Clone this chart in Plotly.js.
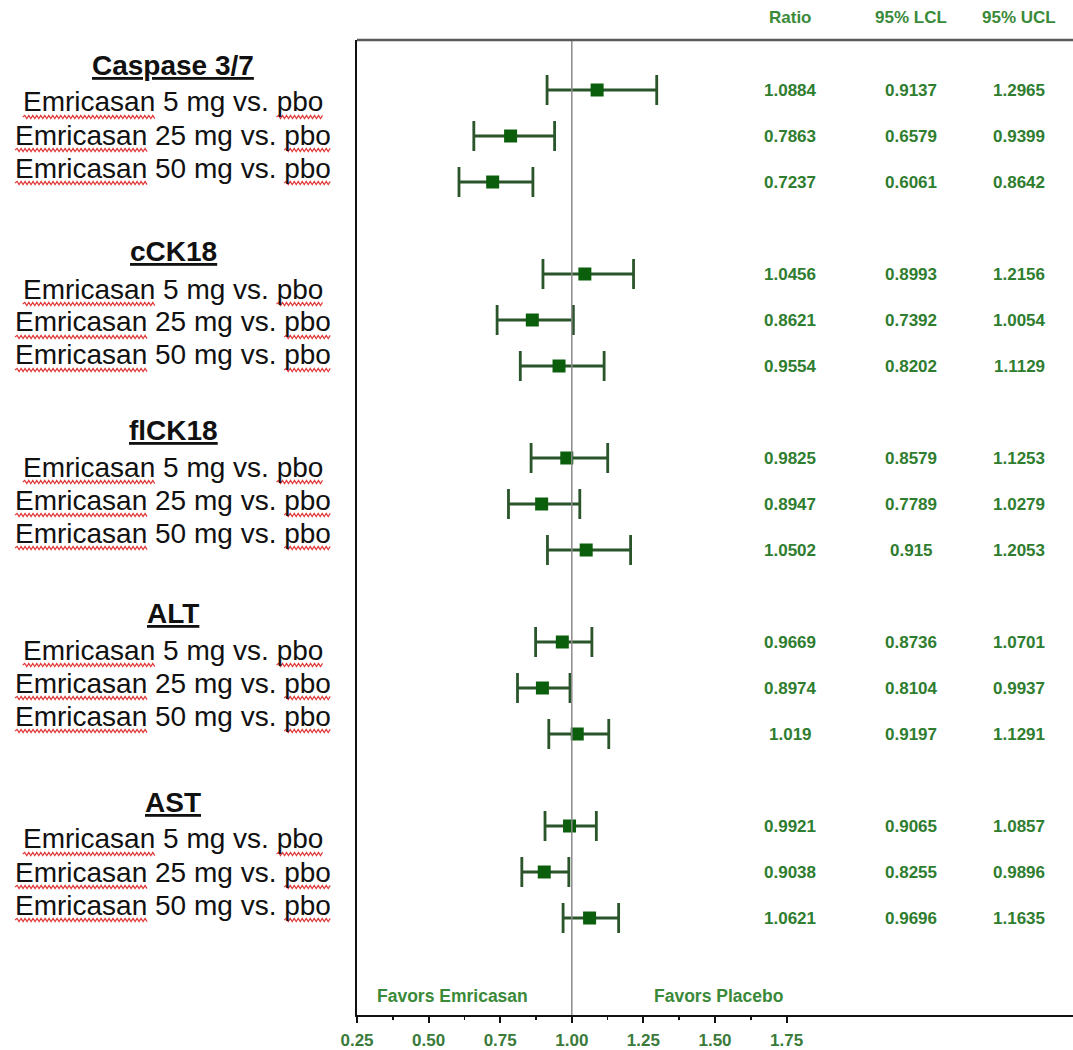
<!DOCTYPE html>
<html>
<head>
<meta charset="utf-8">
<script src="https://cdn.plot.ly/plotly-3.0.1.min.js"></script>
<style>html,body{margin:0;padding:0;background:#fff;}#chart{width:1073px;height:1050px;}</style>
</head>
<body>
<div id="chart"></div>
<script>
// ---- data ----
const groups = ['Caspase 3/7', 'cCK18', 'flCK18', 'ALT', 'AST'];
const comparisons = ['Emricasan 5 mg vs. pbo', 'Emricasan 25 mg vs. pbo', 'Emricasan 50 mg vs. pbo'];
const ratio = [1.0884, 0.7863, 0.7237, 1.0456, 0.8621, 0.9554, 0.9825, 0.8947, 1.0502, 0.9669, 0.8974, 1.019, 0.9921, 0.9038, 1.0621];
const lcl   = [0.9137, 0.6579, 0.6061, 0.8993, 0.7392, 0.8202, 0.8579, 0.7789, 0.915, 0.8736, 0.8104, 0.9197, 0.9065, 0.8255, 0.9696];
const ucl   = [1.2965, 0.9399, 0.8642, 1.2156, 1.0054, 1.1129, 1.1253, 1.0279, 1.2053, 1.0701, 0.9937, 1.1291, 1.0857, 0.9896, 1.1635];
const tableHeaders = ['Ratio', '95% LCL', '95% UCL'];
const tickVals = [0.25, 0.5, 0.75, 1.0, 1.25, 1.5, 1.75];
const tickText = ['0.25', '0.50', '0.75', '1.00', '1.25', '1.50', '1.75'];
const minorVals = [0.375, 0.625, 0.875, 1.125, 1.375, 1.625];
const favorLabels = ['Favors Emricasan', 'Favors Placebo'];

// ---- layout geometry (pixels) ----
const W = 1073, H = 1050;
const M = {l: 357, r: 0, t: 40, b: 35};
const PW = W - M.l - M.r, PH = H - M.t - M.b;
const px = p => (p - M.l) / PW;
const py = p => (H - M.b - p) / PH;
const FONT = 'Liberation Sans, Arial, sans-serif';
const GREEN_TXT = '#2f7d2f';

const rowY = [];
groups.forEach((g, gi) => comparisons.forEach((c, ci) => { rowY.push(gi * 4 + ci); }));

const trace = {
  type: 'scatter', mode: 'markers',
  x: ratio, y: rowY,
  marker: {symbol: 'square', size: 13, color: '#0b5e0b'},
  error_x: {
    type: 'data', symmetric: false,
    array: ucl.map((u, i) => u - ratio[i]),
    arrayminus: lcl.map((l, i) => ratio[i] - l),
    color: '#2a552a', thickness: 2.8, width: 15
  },
  hoverinfo: 'skip', showlegend: false, cliponaxis: false
};

const annotations = [];
const shapes = [];

// table columns
const colPx = [790, 911, 1019];
tableHeaders.forEach((h, k) => annotations.push({
  xref: 'paper', yref: 'paper', x: px(colPx[k]), y: py(18), xanchor: 'center', yanchor: 'middle',
  text: '<b>' + h + '</b>', showarrow: false, font: {family: FONT, size: 17, color: '#3a8a3a'}
}));
const cols = [ratio, lcl, ucl];
cols.forEach((arr, k) => arr.forEach((v, i) => annotations.push({
  xref: 'paper', yref: 'y', x: px(colPx[k]), y: rowY[i], xanchor: 'center', yanchor: 'middle',
  text: '<b>' + String(v) + '</b>', showarrow: false, font: {family: FONT, size: 17, color: GREEN_TXT}
})));

// favors labels
const favPx = [375, 652];
favorLabels.forEach((t, k) => annotations.push({
  xref: 'paper', yref: 'paper', x: px(favPx[k]), y: py(996), xanchor: 'left', yanchor: 'middle',
  text: '<b>' + t + '</b>', showarrow: false, font: {family: FONT, size: 17.5, color: '#3a8a3a'}
}));

// left labels
const headPx = [65, 252, 430, 613, 802];
const lineOff = [37, 70, 103];
const LFS = 28, LCX = 173;
const emrW = 4.723 * LFS, pboW = 1.668 * LFS;
function wave(x0, x1, y) {
  let d = 'M' + px(x0) + ',' + py(y);
  let up = true;
  for (let x = x0 + 2; x <= x1; x += 2) {
    d += ' L' + px(x) + ',' + py(y + (up ? -1.6 : 1.6));
    up = !up;
  }
  return {type: 'path', xref: 'paper', yref: 'paper', path: d, line: {color: '#e03a3a', width: 1.2}, layer: 'above'};
}
groups.forEach((g, gi) => {
  annotations.push({
    xref: 'paper', yref: 'paper', x: px(LCX), y: py(headPx[gi]), xanchor: 'center', yanchor: 'middle',
    text: '<b><u>' + g + '</u></b>', showarrow: false, font: {family: FONT, size: LFS, color: '#111'}
  });
  comparisons.forEach((c, ci) => {
    const yc = headPx[gi] + lineOff[ci];
    annotations.push({
      xref: 'paper', yref: 'paper', x: px(LCX), y: py(yc), xanchor: 'center', yanchor: 'middle',
      text: c, showarrow: false, font: {family: FONT, size: LFS, color: '#111'}
    });
    const wEm = ci === 0 ? 10.73 : 11.28;
    const x0 = LCX - wEm * LFS / 2, x1 = LCX + wEm * LFS / 2;
    shapes.push(wave(x0, x0 + emrW, yc + 15));
    shapes.push(wave(x1 - pboW, x1, yc + 15));
  });
});

// reference line at 1 and top border
shapes.push({type: 'line', xref: 'x', yref: 'paper', x0: 1, x1: 1, y0: 0, y1: 1, line: {color: '#8a8a8a', width: 1.5}});
shapes.push({type: 'line', xref: 'paper', yref: 'paper', x0: 0, x1: 1, y0: 1, y1: 1, line: {color: '#5a5a5a', width: 2.5}});

const layout = {
  width: W, height: H, margin: M,
  paper_bgcolor: '#fff', plot_bgcolor: '#fff',
  font: {family: FONT},
  xaxis: {
    range: [0.25, 0.25 + PW / 286.4], showgrid: false, zeroline: false,
    showline: true, linecolor: '#111', linewidth: 2,
    tickmode: 'array', tickvals: tickVals, ticktext: tickText,
    ticks: 'outside', ticklen: 6, tickwidth: 2, tickcolor: '#111',
    ticklabelstandoff: 3,
    tickfont: {family: FONT, size: 17, color: '#3a7a3a', weight: 'bold'},
    minor: {tickmode: 'array', tickvals: minorVals, ticks: 'outside', ticklen: 3, tickwidth: 1.5, tickcolor: '#111'},
    fixedrange: true
  },
  yaxis: {
    range: [(H - M.b - 90) / 46, (M.t - 90) / 46], showgrid: false, zeroline: false,
    showline: true, linecolor: '#111', linewidth: 2, showticklabels: false, ticks: '', fixedrange: true
  },
  annotations: annotations,
  shapes: shapes
};

Plotly.newPlot('chart', [trace], layout, {displayModeBar: false, staticPlot: true});
</script>
</body>
</html>
